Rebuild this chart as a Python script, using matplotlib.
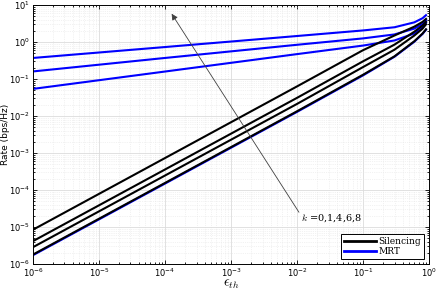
import numpy as np
import matplotlib
matplotlib.use('Agg')
from matplotlib import pyplot as plt

plt.rcParams['mathtext.fontset'] = 'cm'

# values
eps = [1e-6, 1e-4, 1e-2, 1e-1, 0.3, 0.6, 0.8, 0.9]

silencing = [
    [8.45e-6, 7.3e-4, 6.3e-2, 0.60, 1.50, 2.60, 3.50, 4.20],
    [4.15e-6, 3.58e-4, 3.09e-2, 0.30, 0.85, 1.90, 2.80, 3.50],
    [2.85e-6, 2.46e-4, 2.12e-2, 0.21, 0.62, 1.50, 2.30, 3.00],
    [1.80e-6, 1.55e-4, 1.34e-2, 0.13, 0.41, 1.05, 1.70, 2.20],
]

mrt = [
    [0.37, 0.73, 1.45, 2.05, 2.50, 3.40, 4.40, 5.30],
    [0.16, 0.37, 0.84, 1.25, 1.60, 2.30, 3.10, 3.90],
    [0.054, 0.159, 0.47, 0.80, 1.10, 1.70, 2.50, 3.30],
    [1.73e-6, 1.49e-4, 1.29e-2, 0.125, 0.40, 1.02, 1.66, 2.15],
]

fig = plt.figure(figsize=(4.36, 2.93), dpi=100)
ax = fig.add_axes([0.0757, 0.099, 0.9083, 0.884])

for i, y in enumerate(mrt):
    ax.loglog(eps, y, color='#0000ff', lw=1.5, label='MRT' if i == 0 else None)
for i, y in enumerate(silencing):
    ax.loglog(eps, y, color='black', lw=1.5, label='Silencing' if i == 0 else None)

ax.set_xlim(1e-6, 1)
ax.set_ylim(1e-6, 10)
ax.grid(True, which='major', color='#dcdcdc', lw=0.6)
ax.grid(True, which='minor', color='#e6e6e6', lw=0.5, ls=':')
ax.tick_params(which='both', direction='in', top=True, right=True, labelsize=6, width=0.6, pad=2)
ax.tick_params(which='major', length=3)
ax.tick_params(which='minor', length=1.5)
ax.xaxis.set_major_locator(matplotlib.ticker.LogLocator(base=10, numticks=10))
ax.yaxis.set_major_locator(matplotlib.ticker.LogLocator(base=10, numticks=10))
ax.xaxis.set_minor_locator(matplotlib.ticker.LogLocator(base=10, subs=np.arange(2, 10), numticks=12))
ax.yaxis.set_minor_locator(matplotlib.ticker.LogLocator(base=10, subs=np.arange(2, 10), numticks=12))
for s in ax.spines.values():
    s.set_linewidth(0.7)

ax.set_xlabel(r'$\epsilon_{th}$', fontsize=10, va='center')
ax.set_ylabel('Rate (bps/Hz)', fontsize=6.5, va='center')
ax.xaxis.set_label_coords(0.5, -0.078)
ax.yaxis.set_label_coords(-0.069, 0.5)

ax.annotate('', xy=(1.26e-4, 5.8), xytext=(1.07e-2, 2.5e-5),
            arrowprops=dict(arrowstyle='-|>', color='#404040', lw=0.6,
                            mutation_scale=9, shrinkA=0, shrinkB=0))
ax.text(1.15e-2, 1.78e-5, r'$k$ =0,1,4,6,8', fontsize=7, family='serif',
        va='center', ha='left')

h, l = ax.get_legend_handles_labels()
leg = ax.legend(h[::-1], l[::-1], loc='lower right', prop={'family': 'serif', 'size': 6.5},
                fancybox=False, edgecolor='black', framealpha=1, handlelength=3.5,
                handletextpad=0.3, borderpad=0.3, labelspacing=0.1, borderaxespad=0.6)
leg.get_frame().set_linewidth(0.7)
for lh in leg.get_lines():
    lh.set_linewidth(2)

fig.savefig('out.png', dpi=100)
